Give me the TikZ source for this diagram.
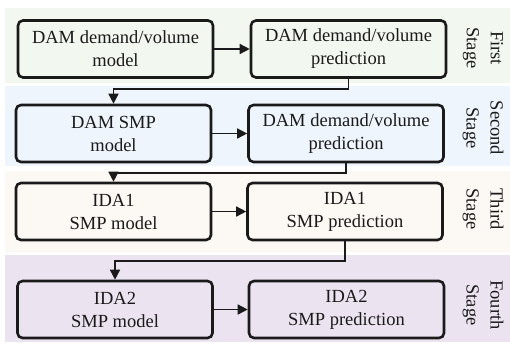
\documentclass[tikz,border=0pt]{standalone}
\usepackage{fontspec}
\setmainfont{Liberation Serif}
\usetikzlibrary{arrows.meta}
\definecolor{bandA}{HTML}{F2F7EF}
\definecolor{bandB}{HTML}{EEF5FC}
\definecolor{bandC}{HTML}{FCF8F4}
\definecolor{bandD}{HTML}{EBE4F0}
\definecolor{ink}{HTML}{1A1A1A}
\tikzset{
  stagebox/.style={draw=ink, line width=2.6pt, rounded corners=5pt, fill=white, fill opacity=0,
    text opacity=1, minimum width=195pt, minimum height=57pt, inner sep=0pt, align=center,
    font=\fontsize{18.5}{23}\selectfont, text=ink},
  link/.style={draw=ink, line width=1.5pt, -{Triangle[length=10pt,width=10pt]}},
  stagelabel/.style={rotate=-90, align=center, font=\fontsize{18.5}{24}\selectfont, text=ink},
  band/.style={draw=none}
}
\begin{document}
\begin{tikzpicture}[x=1pt,y=-1pt]
\useasboundingbox (0,0) rectangle (510,346);
% bands
\fill[bandA] (5,8) rectangle (510,83);
\fill[bandB] (5,86) rectangle (510,166);
\fill[bandC] (5,171) rectangle (510,252);
\fill[bandD] (5,255) rectangle (510,342);
% boxes
\node[stagebox] (b1) at (115.5,49) {DAM demand/volume\\model};
\node[stagebox] (b2) at (348.5,49) {DAM demand/volume\\prediction};
\node[stagebox] (b3) at (113.5,133.5) {DAM SMP\\model};
\node[stagebox] (b4) at (346,133.5) {DAM demand/volume\\prediction};
\node[stagebox] (b5) at (113.5,211.5) {IDA1\\SMP model};
\node[stagebox] (b6) at (345,211.5) {IDA1\\SMP prediction};
\node[stagebox] (b7) at (115,309.5) {IDA2\\SMP model};
\node[stagebox] (b8) at (346.5,309.5) {IDA2\\SMP prediction};
% stage labels
\node[stagelabel] (s1) at (483,48) {First\\Stage};
\node[stagelabel] (s2) at (483,128) {Second\\Stage};
\node[stagelabel] (s3) at (483,209) {Third\\Stage};
\node[stagelabel] (s4) at (483,305) {Fourth\\Stage};
% horizontal arrows
\draw[link] (b1.east) -- (b2.west);
\draw[link] (b3.east) -- (b4.west);
\draw[link] (b5.east) -- (b6.west);
\draw[link] (b7.east) -- (b8.west);
% stage-to-stage connectors
\coordinate (j1) at (0,89);
\coordinate (j2) at (0,173);
\coordinate (j3) at (0,261);
\draw[link] (b2.south) -- (b2.south |- j1) -- (b3.north |- j1) -- (b3.north);
\draw[link] (b4.south) -- (b4.south |- j2) -- (b5.north |- j2) -- (b5.north);
\draw[link] (b6.south) -- (b6.south |- j3) -- (b7.north |- j3) -- (b7.north);
\end{tikzpicture}
\end{document}
